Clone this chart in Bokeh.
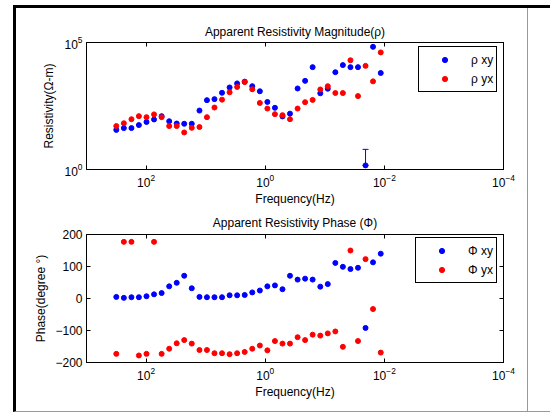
from bokeh.plotting import figure
from bokeh.models import (Range1d, FixedTicker, LogAxis, LinearAxis,
                          Legend, LegendItem, ColumnDataSource, Whisker, TeeHead,
                          CustomJSTickFormatter)
from bokeh.layouts import column
from bokeh.embed import file_html
from bokeh.resources import INLINE

# ---------------- data ----------------
freq = [316, 236, 176, 132, 98.4, 73.5, 54.8, 40.9, 30.6, 22.9, 17.1, 12.7,
        9.51, 7.11, 5.31, 3.96, 2.96, 2.21, 1.65, 1.23, 0.920, 0.687, 0.513, 0.384,
        0.286, 0.214, 0.160, 0.119, 0.0891, 0.0665, 0.0497, 0.0371, 0.0277, 0.0207,
        0.0155, 0.0115]

rho_xy = [36.3, 42.7, 42.7, 56.2, 74.1, 93.3, 126, 79.4, 64.6, 63.1, 63.1, 209,
          537, 589, 1047, 1698, 2455, 2884, 1905, 1202, 457, 269, 123, 158,
          1549, 3090, 10715, 1000, 1514, 6761, 12882, 10715, 10715, 1.45, 67608, 6310]

rho_yx = [51.3, 66.1, 95.5, 126, 115, 148, 115, 51.3, 51.3, 28.8, 43.7, 46.8,
          115, 275, 562, 1096, 1778, 2754, 1445, 417, 251, 151, 138, 95.5,
          251, 447, 550, 1413, 1905, 1023, 1023, 19953, 776, 12023, 2951, 40738]

phase_xy = [5, 2, 4, 4, 7, 13, 17, 38, 49, 71, 32, 5,
            4, 4, 4, 10, 10, 11, 19, 25, 38, 41, 29, 71,
            59, 62, 59, 37, 45, 111, 99, 92, 96, -92, 113, 140]

phase_yx = [-173, 177, 177, -178, -173, 177, -173, -157, -140, -130, -141, -161,
            -161, -171, -171, -174, -171, -167, -157, -147, -162, -133, -141, -141,
            -121, -130, -113, -116, -109, -103, -151, 150, -133, 123, -33, -169]

# error bar on one rho_xy point
err_freq = [0.0207]
err_low = [1.45]
err_high = [6.2]

x_ticks = [1e2, 1e0, 1e-2, 1e-4]
rho_ticks = [1e0, 1e5]
phase_ticks = [-200, -100, 0, 100, 200]

FONT = "Liberation Sans"
FS = "12px"
BLUE = "#0000ff"
RED = "#ff0000"


def style_axis(ax):
    ax.major_tick_in = 4
    ax.major_tick_out = 0
    ax.minor_tick_in = 0
    ax.minor_tick_out = 0
    ax.axis_line_color = "black"
    ax.major_tick_line_color = "black"
    ax.major_label_text_font = FONT
    ax.major_label_text_font_size = FS
    ax.major_label_text_color = "black"
    ax.axis_label_text_font = FONT
    ax.axis_label_text_font_size = FS
    ax.axis_label_text_font_style = "normal"
    ax.axis_label_text_color = "black"


def mirror(ax):
    style_axis(ax)
    ax.formatter = CustomJSTickFormatter(code="return '';")
    ax.major_label_standoff = 0


def base_fig(title, y_type, y_range, height, b_top, b_bottom, t_standoff):
    p = figure(width=511, height=height, x_axis_type="log", y_axis_type=y_type,
               x_range=Range1d(1e3, 1e-4), y_range=y_range,
               output_backend="svg", toolbar_location=None,
               min_border_left=70, min_border_right=24,
               min_border_top=b_top, min_border_bottom=b_bottom,
               title=title)
    p.title.text_font = FONT
    p.title.text_font_size = FS
    p.title.text_font_style = "normal"
    p.title.text_color = "black"
    p.title.align = "center"
    p.title.standoff = t_standoff
    p.grid.visible = False
    p.outline_line_color = "black"
    p.outline_line_alpha = 1
    p.background_fill_color = "white"
    p.border_fill_color = None
    p.xaxis.ticker = FixedTicker(ticks=x_ticks)
    p.xaxis.axis_label = "Frequency(Hz)"
    p.xaxis.major_label_standoff = 4
    p.xaxis.axis_label_standoff = 2
    style_axis(p.xaxis[0])
    style_axis(p.yaxis[0])
    p.yaxis.major_label_standoff = 4
    top = LogAxis(ticker=FixedTicker(ticks=x_ticks))
    mirror(top)
    p.add_layout(top, "above")
    return p


def make_legend(p, items, loc):
    lg = Legend(items=items, location=loc, margin=0, padding=3, spacing=0,
                glyph_width=45, glyph_height=13, label_height=19, label_standoff=4,
                border_line_color="black", border_line_width=1, border_line_alpha=1,
                background_fill_color="white", background_fill_alpha=1,
                label_text_font=FONT, label_text_font_size=FS,
                label_text_color="black")
    p.add_layout(lg)


# ---------------- top: apparent resistivity ----------------
p1 = base_fig("Apparent Resistivity Magnitude(ρ)", "log", Range1d(1e0, 1e5), 201, 34, 40, 7)
p1.yaxis.ticker = FixedTicker(ticks=rho_ticks)
p1.yaxis.axis_label = "Resistivity(Ω-m)"
p1.yaxis.axis_label_standoff = 5
r1 = LogAxis(ticker=FixedTicker(ticks=rho_ticks))
mirror(r1)
p1.add_layout(r1, "right")

src_xy = ColumnDataSource(dict(f=freq, v=rho_xy))
src_yx = ColumnDataSource(dict(f=freq, v=rho_yx))
g_xy = p1.scatter("f", "v", source=src_xy, size=5, color=BLUE)
g_yx = p1.scatter("f", "v", source=src_yx, size=5, color=RED)
err_src = ColumnDataSource(dict(f=err_freq, lo=err_low, hi=err_high))
p1.add_layout(Whisker(source=err_src, base="f", lower="lo", upper="hi", dimension="height",
                      line_color=BLUE, line_width=1,
                      upper_head=TeeHead(size=6, line_color=BLUE, line_width=1),
                      lower_head=TeeHead(size=6, line_color=BLUE, line_width=1)))
make_legend(p1, [LegendItem(label="ρ xy", renderers=[g_xy]),
                 LegendItem(label="ρ yx", renderers=[g_yx])], (332, 77))

# ---------------- bottom: phase ----------------
p2 = base_fig("Apparent Resistivity Phase (Φ)", "linear", Range1d(-200, 200), 202, 25, 49, 9)
p2.yaxis.ticker = FixedTicker(ticks=phase_ticks)
p2.yaxis.axis_label = "Phase(degree °)"
p2.yaxis.axis_label_standoff = 4
r2 = LinearAxis(ticker=FixedTicker(ticks=phase_ticks))
mirror(r2)
p2.add_layout(r2, "right")

src_pxy = ColumnDataSource(dict(f=freq, v=phase_xy))
src_pyx = ColumnDataSource(dict(f=freq, v=phase_yx))
h_xy = p2.scatter("f", "v", source=src_pxy, size=5, color=BLUE)
h_yx = p2.scatter("f", "v", source=src_pyx, size=5, color=RED)
make_legend(p2, [LegendItem(label="Φ xy", renderers=[h_xy]),
                 LegendItem(label="Φ yx", renderers=[h_yx])], (329, 79))

layout = column(p1, p2, spacing=0,
                styles={"margin-left": "13px", "margin-top": "5px",
                        "border-top": "3px solid #000", "border-left": "3px solid #000",
                        "border-bottom": "1px solid #999",
                        "padding-right": "23px",
                        "background-color": "white",
                        "background-image": "linear-gradient(#999, #999)",
                        "background-size": "1px 100%",
                        "background-position": "511px 0",
                        "background-repeat": "no-repeat"})

open("out.html", "w").write(file_html(layout, INLINE))
